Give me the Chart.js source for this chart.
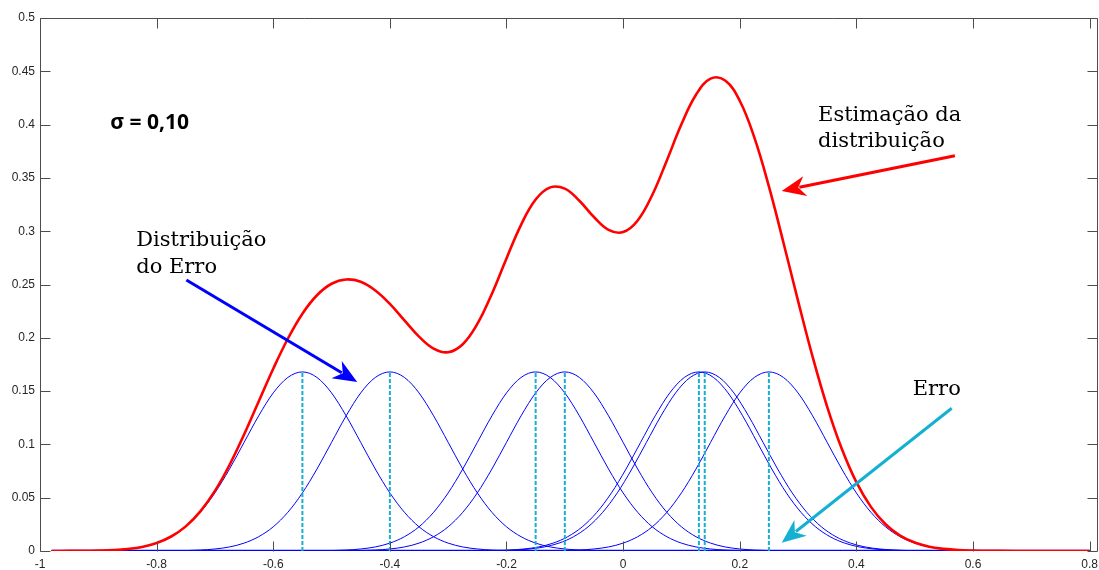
<!DOCTYPE html>
<html>
<head>
<meta charset="utf-8">
<script src="https://cdn.jsdelivr.net/npm/chart.js@4.4.0/dist/chart.umd.min.js"></script>
<style>
  html, body { margin: 0; padding: 0; background: #fff; }
  #wrap { width: 1099px; height: 570px; }
</style>
</head>
<body>
<div id="wrap"><canvas id="kde"></canvas></div>
<script>
// posições dos erros (centro de cada núcleo)
const centros = [-0.55, -0.40, -0.15, -0.10, 0.13, 0.14, 0.25];
const alturaNucleo = 0.168;

// perfil de um núcleo gaussiano (σ = 0,10), deslocamento em relação ao centro
const nucleoDx = [-0.4, -0.375, -0.35, -0.325, -0.3, -0.275, -0.25, -0.225, -0.2, -0.175, -0.15, -0.125, -0.1, -0.075, -0.05, -0.025,
  0, 0.025, 0.05, 0.075, 0.1, 0.125, 0.15, 0.175, 0.2, 0.225, 0.25, 0.275, 0.3, 0.325, 0.35, 0.375, 0.4];
const nucleoY = [0.0001, 0.0002, 0.0004, 0.0009, 0.0019, 0.0038, 0.0074, 0.0134, 0.0227, 0.0363, 0.0545, 0.0769, 0.1019, 0.1268, 0.1483, 0.1628,
  0.168, 0.1628, 0.1483, 0.1268, 0.1019, 0.0769, 0.0545, 0.0363, 0.0227, 0.0134, 0.0074, 0.0038, 0.0019, 0.0009, 0.0004, 0.0002, 0.0001];

// estimação da distribuição (curva vermelha)
const estimX = [-0.98, -0.95, -0.925, -0.9, -0.875, -0.85, -0.825, -0.8, -0.775, -0.75, -0.725, -0.7, -0.675, -0.65, -0.625, -0.6,
  -0.575, -0.55, -0.525, -0.5, -0.475, -0.45, -0.425, -0.4, -0.375, -0.35, -0.325, -0.3, -0.275, -0.25, -0.225, -0.2,
  -0.175, -0.15, -0.125, -0.1, -0.075, -0.05, -0.025, 0, 0.025, 0.05, 0.075, 0.1, 0.125, 0.15, 0.175, 0.2,
  0.225, 0.25, 0.275, 0.3, 0.325, 0.35, 0.375, 0.4, 0.425, 0.45, 0.475, 0.5, 0.525, 0.55, 0.575, 0.6,
  0.625, 0.65, 0.7, 0.75, 0.8];
const estimY = [0, 0.0001, 0.0001, 0.0004, 0.0009, 0.0019, 0.0038, 0.0075, 0.0136, 0.0231, 0.0372, 0.0564, 0.0807, 0.1093, 0.1402, 0.1710,
  0.1991, 0.2226, 0.2399, 0.2507, 0.2547, 0.2525, 0.2444, 0.2318, 0.2163, 0.2011, 0.1899, 0.1865, 0.1940, 0.2130, 0.2414, 0.2745,
  0.3060, 0.3297, 0.3411, 0.3399, 0.3286, 0.3133, 0.3013, 0.2992, 0.3101, 0.3340, 0.3664, 0.4003, 0.4280, 0.4431, 0.4413, 0.4224,
  0.3880, 0.3420, 0.2892, 0.2347, 0.1822, 0.1353, 0.0959, 0.0646, 0.0414, 0.0251, 0.0144, 0.0079, 0.0040, 0.0020, 0.0009, 0.0004,
  0.0001, 0.0001, 0, 0, 0];

const xTicks = [-1, -0.8, -0.6, -0.4, -0.2, 0, 0.2, 0.4, 0.6, 0.8];
const yTicks = [0, 0.05, 0.1, 0.15, 0.2, 0.25, 0.3, 0.35, 0.4, 0.45, 0.5];

const AZUL = '#0000ff';
const VERMELHO = '#ff0000';
const CIANO = '#14b0d2';
const EIXO = '#4d4d4d';

const xIni = estimX[0], xFim = estimX[estimX.length - 1];

const datasets = [];

datasets.push({
  label: 'estimação',
  data: estimX.map((x, i) => ({ x, y: estimY[i] })),
  borderColor: VERMELHO, borderWidth: 2.6,
  tension: 0.4, order: 0
});

centros.forEach(c => {
  datasets.push({
    label: 'erro ' + c,
    data: [{ x: c, y: 0 }, { x: c, y: alturaNucleo }],
    borderColor: CIANO, borderWidth: 2, borderDash: [4, 2], order: 1
  });
});

centros.forEach(c => {
  const pts = nucleoDx.map((d, i) => ({ x: +(c + d).toFixed(3), y: nucleoY[i] }));
  datasets.push({
    label: 'núcleo ' + c,
    data: [{ x: xIni, y: 0 }, ...pts, { x: xFim, y: 0 }],
    borderColor: AZUL, borderWidth: 1,
    cubicInterpolationMode: 'monotone', order: 2
  });
});

datasets.push({
  label: 'base',
  data: [{ x: xIni, y: 0 }, { x: xFim, y: 0 }],
  borderColor: AZUL, borderWidth: 2.5, order: 3
});

// textos e setas, em coordenadas dos dados
const textos = [
  { t: 'σ = 0,10', x: -0.8795, y: 0.396, font: 'bold 21px "Open Sans", "Liberation Sans", sans-serif' },
  { t: 'Estimação da', x: 0.3343, y: 0.4038 },
  { t: 'distribuição', x: 0.3343, y: 0.3794 },
  { t: 'Distribuição', x: -0.835, y: 0.2865 },
  { t: 'do Erro', x: -0.835, y: 0.2606 },
  { t: 'Erro', x: 0.4967, y: 0.1464 }
];
const setas = [
  { de: [-0.749, 0.2543], para: [-0.456, 0.1586], cor: AZUL },
  { de: [0.569, 0.3707], para: [0.272, 0.3378], cor: VERMELHO },
  { de: [0.5635, 0.1339], para: [0.272, 0.0078], cor: CIANO }
];

function seta(ctx, x0, y0, x1, y1, cor) {
  const ang = Math.atan2(y1 - y0, x1 - x0);
  const comp = 24, larg = 10;
  const bx = x1 - comp * Math.cos(ang), by = y1 - comp * Math.sin(ang);
  ctx.strokeStyle = cor;
  ctx.fillStyle = cor;
  ctx.lineWidth = 3;
  ctx.beginPath();
  ctx.moveTo(x0, y0);
  ctx.lineTo(bx + 6 * Math.cos(ang), by + 6 * Math.sin(ang));
  ctx.stroke();
  ctx.beginPath();
  ctx.moveTo(x1, y1);
  ctx.lineTo(bx + larg * Math.sin(ang), by - larg * Math.cos(ang));
  ctx.lineTo(bx + 0.3 * comp * Math.cos(ang), by + 0.3 * comp * Math.sin(ang));
  ctx.lineTo(bx - larg * Math.sin(ang), by + larg * Math.cos(ang));
  ctx.closePath();
  ctx.fill();
}

// moldura com marcas para dentro nos quatro lados, mais anotações
const moldura = {
  id: 'moldura',
  afterDatasetsDraw(chart) {
    const { ctx, chartArea: a, scales: { x, y } } = chart;
    const L = Math.round(a.left) + 0.5, R = Math.round(a.right) - 0.5;
    const T = Math.round(a.top) + 0.5, B = Math.round(a.bottom) + 0.5;
    ctx.save();
    ctx.strokeStyle = EIXO;
    ctx.lineWidth = 1;
    ctx.beginPath();
    ctx.moveTo(L, B); ctx.lineTo(L, T); ctx.lineTo(R, T); ctx.lineTo(R, B);
    xTicks.forEach(v => {
      const px = Math.round(x.getPixelForValue(v)) + 0.5;
      ctx.moveTo(px, B); ctx.lineTo(px, B - 10);
      ctx.moveTo(px, T); ctx.lineTo(px, T + 10);
    });
    yTicks.forEach(v => {
      const py = Math.round(y.getPixelForValue(v)) + 0.5;
      ctx.moveTo(L, py); ctx.lineTo(L + 10, py);
      ctx.moveTo(R, py); ctx.lineTo(R - 10, py);
    });
    ctx.stroke();

    setas.forEach(s => seta(ctx,
      x.getPixelForValue(s.de[0]), y.getPixelForValue(s.de[1]),
      x.getPixelForValue(s.para[0]), y.getPixelForValue(s.para[1]), s.cor));

    ctx.fillStyle = '#000';
    ctx.textAlign = 'left';
    ctx.textBaseline = 'alphabetic';
    textos.forEach(o => {
      ctx.font = o.font || '21px "DejaVu Serif", serif';
      ctx.fillText(o.t, x.getPixelForValue(o.x), y.getPixelForValue(o.y));
    });
    ctx.restore();
  }
};

const fmt = v => String(+Number(v).toFixed(2));

new Chart(document.getElementById('kde'), {
  type: 'line',
  data: { datasets },
  options: {
    responsive: true,
    maintainAspectRatio: false,
    animation: false,
    layout: { padding: { top: 18, right: 1, left: 0, bottom: 0 } },
    elements: { point: { radius: 0 } },
    plugins: { legend: { display: false }, tooltip: { enabled: false } },
    scales: {
      x: {
        type: 'linear', min: -1, max: 0.8144,
        afterBuildTicks: s => { s.ticks = xTicks.map(v => ({ value: v })); },
        afterFit: s => { s.height = 19; s.paddingLeft = 0; s.paddingRight = 0; },
        grid: { display: false, drawTicks: false },
        border: { display: false },
        ticks: { callback: fmt, padding: 6, maxRotation: 0, autoSkip: false,
          color: '#262626', font: { family: '"Liberation Sans", Arial, sans-serif', size: 12 } }
      },
      y: {
        type: 'linear', min: 0, max: 0.5,
        afterBuildTicks: s => { s.ticks = yTicks.map(v => ({ value: v })); },
        afterFit: s => { s.width = 40; s.paddingTop = 0; s.paddingBottom = 0; },
        grid: { display: false, drawTicks: false },
        border: { display: false },
        ticks: { callback: fmt, padding: 5, autoSkip: false,
          color: '#262626', font: { family: '"Liberation Sans", Arial, sans-serif', size: 12 } }
      }
    }
  },
  plugins: [moldura]
});
</script>
</body>
</html>
